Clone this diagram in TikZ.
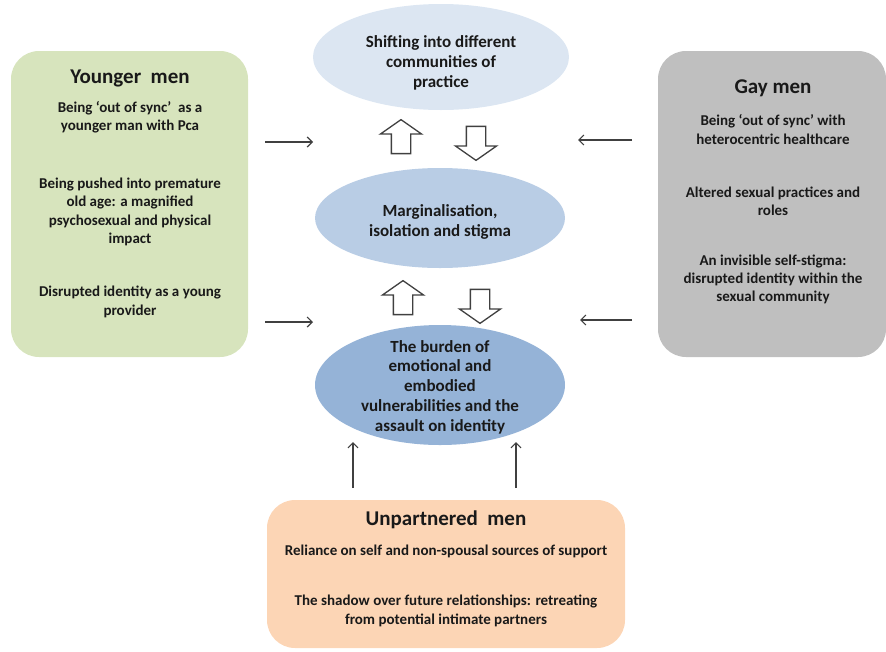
\documentclass[tikz,border=0pt]{standalone}
\usepackage{fontspec}
\setmainfont{Carlito}
\usetikzlibrary{shapes.geometric,shapes.arrows,arrows.meta}
\definecolor{youngfill}{HTML}{D7E4BD}
\definecolor{gayfill}{HTML}{BFBFBF}
\definecolor{singlefill}{HTML}{FCD5B5}
\definecolor{themeA}{HTML}{DCE6F2}
\definecolor{themeB}{HTML}{B9CDE5}
\definecolor{themeC}{HTML}{95B3D7}
\definecolor{linegray}{HTML}{404040}
\tikzset{every node/.style={font=\bfseries\fontsize{15}{18.3}\selectfont,text=black!90,align=center}}
\tikzset{group/.style={rounded corners=28pt,inner sep=0pt}}
\tikzset{grouptitle/.style={font=\bfseries\fontsize{21}{24}\selectfont,anchor=base}}
\tikzset{theme/.style={ellipse,inner sep=0pt}}
\tikzset{themetext/.style={font=\bfseries\fontsize{17}{19.7}\selectfont}}
\tikzset{hollow/.style={single arrow,draw=linegray,line width=1.3pt,fill=white,inner xsep=0pt,inner ysep=9pt,
  minimum height=34pt,single arrow head extend=11pt,single arrow tip angle=110}}
\tikzset{feed/.style={draw=linegray,line width=1.2pt,-{Straight Barb[length=5pt,width=10pt]}}}
\newcommand{\groupbox}[5]{\node[group,fill=#4,minimum width=#2,minimum height=#3] at (#1) (#5) {}}

\begin{document}
\begin{tikzpicture}[x=1pt,y=-1pt]
  \useasboundingbox (0,0) rectangle (886,651);

  % men groups
  \groupbox{129.5,204}{237pt}{306pt}{youngfill}{young};
  \groupbox{772,204}{228pt}{306pt}{gayfill}{gay};
  \groupbox{446,574}{358pt}{148pt}{singlefill}{single};

  \node[grouptitle] at (130,83) (youngT) {Younger~ men};
  \node at (130,117.5) (young1) {Being `out of sync'~ as a\\younger man with Pca};
  \node at (130,212) (young2) {Being pushed into premature\\old age: a magnified\\psychosexual and physical\\impact};
  \node at (130,302) (young3) {Disrupted identity as a young\\provider};

  \node[grouptitle] at (773,93) (gayT) {Gay men};
  \node at (773,129.5) (gay1) {Being `out of sync' with\\heterocentric healthcare};
  \node at (773,201) (gay2) {Altered sexual practices and\\roles};
  \node at (773,279.5) (gay3) {An invisible self-stigma:\\disrupted identity within the\\sexual community};

  \node[grouptitle] at (446,525) (singleT) {Unpartnered~ men};
  \node at (446,551) (single1) {Reliance on self and non-spousal sources of support};
  \node at (446,611) (single2) {The shadow over future relationships: retreating\\from potential intimate partners};

  % themes
  \node[theme,fill=themeA,minimum width=256pt,minimum height=106pt] at (441,57) (shift) {};
  \node[themetext] at (441,63) (shiftT) {Shifting into different\\communities of\\practice};
  \node[theme,fill=themeB,minimum width=250pt,minimum height=100pt] at (440,218) (margin) {};
  \node[themetext] at (440,222) (marginT) {Marginalisation,\\isolation and stigma};
  \node[theme,fill=themeC,minimum width=250pt,minimum height=120pt] at (440,385) (burden) {};
  \node[themetext] at (440,387) (burdenT) {The burden of\\emotional and\\embodied\\vulnerabilities and the\\assault on identity};

  \node[hollow,rotate=90] at (401,140) (upA) {};
  \node[hollow,rotate=-90] at (476,140) (downA) {};
  \node[hollow,rotate=90] at (403,301) (upB) {};
  \node[hollow,rotate=-90] at (480,303) (downB) {};

  \coordinate (youngA) at (265,142);
  \coordinate (youngB) at (265,322);
  \coordinate (gayA) at (632,140);
  \coordinate (gayB) at (632,320);
  \coordinate (singleA) at (353,488);
  \coordinate (singleB) at (516,488);
  \coordinate (toA) at (313,142);
  \coordinate (toB) at (313,322);
  \coordinate (toC) at (578,140);
  \coordinate (toD) at (580,320);
  \coordinate (toE) at (353,442);
  \coordinate (toF) at (516,442);

  \draw[feed] (youngA) -- (toA);
  \draw[feed] (youngB) -- (toB);
  \draw[feed] (gayA) -- (toC);
  \draw[feed] (gayB) -- (toD);
  \draw[feed] (singleA) -- (toE);
  \draw[feed] (singleB) -- (toF);
\end{tikzpicture}
\end{document}
